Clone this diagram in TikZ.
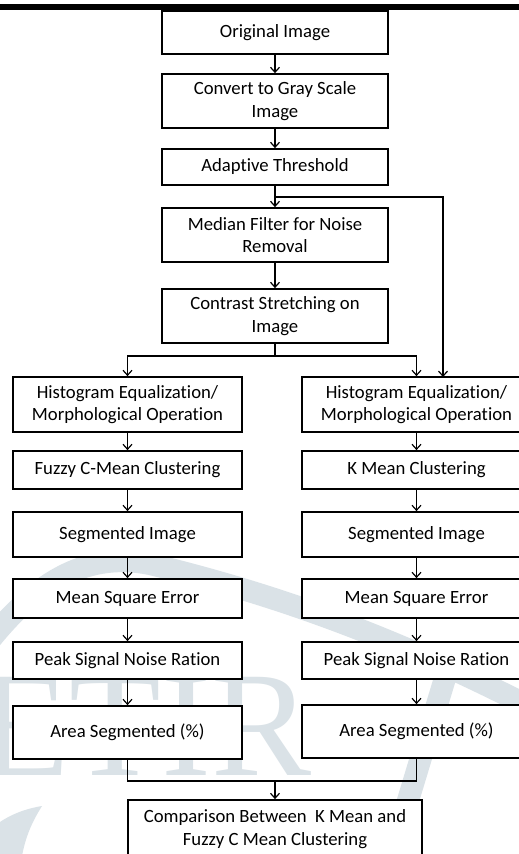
\documentclass[tikz,border=0pt]{standalone}
\usepackage{fontspec}
\setmainfont[Ligatures=NoCommon]{Carlito}
\newfontfamily\wmfont{Liberation Serif}
\usetikzlibrary{arrows.meta}
\definecolor{wm}{RGB}{218,226,231}
\tikzset{
  box/.style={draw=black, line width=1.7pt, fill=white, inner sep=0pt, align=center,
    font=\fontsize{18.7}{22.5}\selectfont, text=black},
  cbox/.style={box, minimum width=226pt},
  sbox/.style={box, minimum width=229pt},
  arr/.style={line width=1.2pt, -{Straight Barb[length=5pt,width=9pt,line width=1.2pt]}},
  ln/.style={line width=1.2pt}
}
\begin{document}
\begin{tikzpicture}[x=1pt,y=-1pt]
\useasboundingbox (0,0) rectangle (519,854);
\clip (0,0) rectangle (519,854);
\fill[white] (0,0) rectangle (519,854);
% watermark
\draw[wm, line width=22pt] (-10,640) .. controls (40,578) and (90,552) .. (150,564) .. controls (300,600) and (420,650) .. (540,712);
\draw[wm, line width=22pt] (452,655) -- (390,860);
\fill[wm] (0,822) .. controls (15,812) and (30,808) .. (42,806) .. controls (30,825) and (25,840) .. (22,856) -- (0,856) -- cycle;
\node[anchor=base west, inner sep=0pt, font=\wmfont\fontsize{150}{150}\selectfont, text=wm] (wmtext) at (-22,775) {ETIR};
% header bar
\fill[black] (0,3.5) rectangle (519,9.5);
% centre column
\node[cbox, minimum height=43pt] (orig) at (275,32.5) {Original Image};
\node[cbox, minimum height=54pt] (conv) at (275,101) {Convert to Gray Scale\\Image};
\node[cbox, minimum height=36pt] (adapt) at (275,167) {Adaptive Threshold};
\node[cbox, minimum height=54pt] (median) at (275,235) {Median Filter for Noise\\Removal};
\node[cbox, minimum height=54pt] (contr) at (275,316) {Contrast Stretching on\\Image};
% left column
\node[sbox, minimum height=55pt] (lhist) at (127.5,404.5) {Histogram Equalization/\\Morphological Operation};
\node[sbox, minimum height=38pt] (lclus) at (127.5,470) {Fuzzy C-Mean Clustering};
\node[sbox, minimum height=45pt] (lseg) at (127.5,534.5) {Segmented Image};
\node[sbox, minimum height=39pt] (lmse) at (127.5,598.5) {Mean Square Error};
\node[sbox, minimum height=37pt] (lpsnr) at (127.5,660.5) {Peak Signal Noise Ration};
\node[sbox, minimum height=53pt] (larea) at (127.5,732.5) {Area Segmented (\%)};
% right column
\node[sbox, minimum height=55pt] (rhist) at (416.5,404.5) {Histogram Equalization/\\Morphological Operation};
\node[sbox, minimum height=38pt] (rclus) at (416.5,470) {K Mean Clustering};
\node[sbox, minimum height=45pt] (rseg) at (416.5,534.5) {Segmented Image};
\node[sbox, minimum height=39pt] (rmse) at (416.5,598.5) {Mean Square Error};
\node[sbox, minimum height=37pt] (rpsnr) at (416.5,660.5) {Peak Signal Noise Ration};
\node[sbox, minimum height=53pt] (rarea) at (416.5,731.5) {Area Segmented (\%)};
% final
\node[box, minimum width=294pt, minimum height=58pt] (comp) at (275,829) {Comparison Between\ \ K Mean and\\Fuzzy C Mean Clustering};
% connectors
\draw[arr] (orig) -- (conv);
\draw[arr] (conv) -- (adapt);
\draw[arr] (adapt) -- (median);
\coordinate (bsplit) at (275,197);
\coordinate (bin) at (443,377);
\draw[arr] (bsplit) -| (bin);
\draw[arr] (median) -- (contr);
\coordinate (csplit) at (275,356);
\draw[ln] (contr.south) -- (csplit);
\draw[arr] (csplit) -| (lhist.north);
\draw[arr] (csplit) -| (rhist.north);
\draw[arr] (lhist) -- (lclus);
\draw[arr] (lclus) -- (lseg);
\draw[arr] (lseg) -- (lmse);
\draw[arr] (lmse) -- (lpsnr);
\draw[arr] (lpsnr) -- (larea);
\draw[arr] (rhist) -- (rclus);
\draw[arr] (rclus) -- (rseg);
\draw[arr] (rseg) -- (rmse);
\draw[arr] (rmse) -- (rpsnr);
\draw[arr] (rpsnr) -- (rarea);
\coordinate (mjoin) at (275,781);
\draw[ln] (larea.south) |- (mjoin) -| (rarea.south);
\draw[arr] (mjoin) -- (comp);
\end{tikzpicture}
\end{document}
